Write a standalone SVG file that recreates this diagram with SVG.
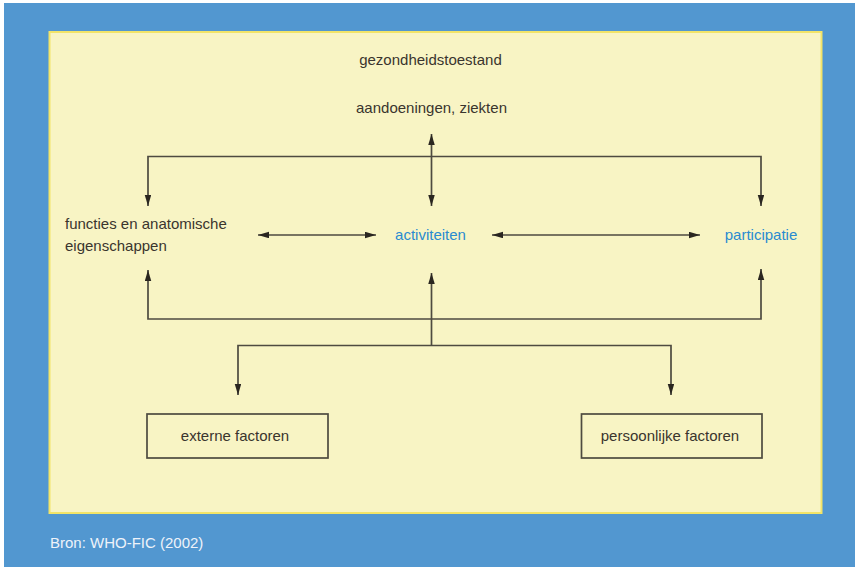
<svg xmlns="http://www.w3.org/2000/svg" width="855" height="567" viewBox="0 0 855 567">
<defs>
<marker id="ah" markerUnits="userSpaceOnUse" markerWidth="11" markerHeight="7" refX="11" refY="3.25" orient="auto-start-reverse">
<path d="M0,0 L11,3.25 L0,6.5 z" fill="#2a2620"/>
</marker>
<style>
.t{font-family:"Liberation Sans",Arial,sans-serif;font-size:15px;fill:#3a352e}
.b{fill:#2a8bd0}
.c{text-anchor:middle}
.ln{fill:none;stroke:#4e4a40;stroke-width:1.7;marker-start:url(#ah);marker-end:url(#ah)}
.box{fill:none;stroke:#4e4a40;stroke-width:1.7}
</style>
</defs>
<rect x="4" y="3" width="851" height="564" fill="#5297d0"/>
<rect x="49.5" y="32" width="772" height="481" fill="#f8f4c4" stroke="#f2e468" stroke-width="2"/>
<g id="connectors">
<path class="ln" d="M148,206 V156.5 H761 V206"/>
<path class="ln" d="M431.5,134 V206"/>
<path class="ln" d="M258,235 H376"/>
<path class="ln" d="M492,235 H700"/>
<path class="ln" d="M148,270 V319 H761 V269"/>
<path class="ln" style="marker-start:none" d="M431.5,345.5 V273"/>
<path class="ln" d="M238,395 V345.5 H671 V395"/>
</g>
<g id="gezondheidstoestand"><text class="t c" x="430.5" y="65">gezondheidstoestand</text></g>
<g id="aandoeningen"><text class="t c" x="431.5" y="112.5">aandoeningen, ziekten</text></g>
<g id="functies"><text class="t" x="65" y="228.5">functies en anatomische</text><text class="t" x="65" y="251">eigenschappen</text></g>
<g id="activiteiten"><text class="t b c" x="430.5" y="240">activiteiten</text></g>
<g id="participatie"><text class="t b c" x="761" y="240">participatie</text></g>
<g id="externe"><rect class="box" x="147" y="414" width="181" height="44"/><text class="t c" x="235" y="441">externe factoren</text></g>
<g id="persoonlijke"><rect class="box" x="581.5" y="414" width="180.5" height="44"/><text class="t c" x="670" y="441">persoonlijke factoren</text></g>
<text x="50" y="547.5" style="font-family:'Liberation Sans',Arial,sans-serif;font-size:15px;fill:#eef3fa">Bron: WHO-FIC (2002)</text>
</svg>
